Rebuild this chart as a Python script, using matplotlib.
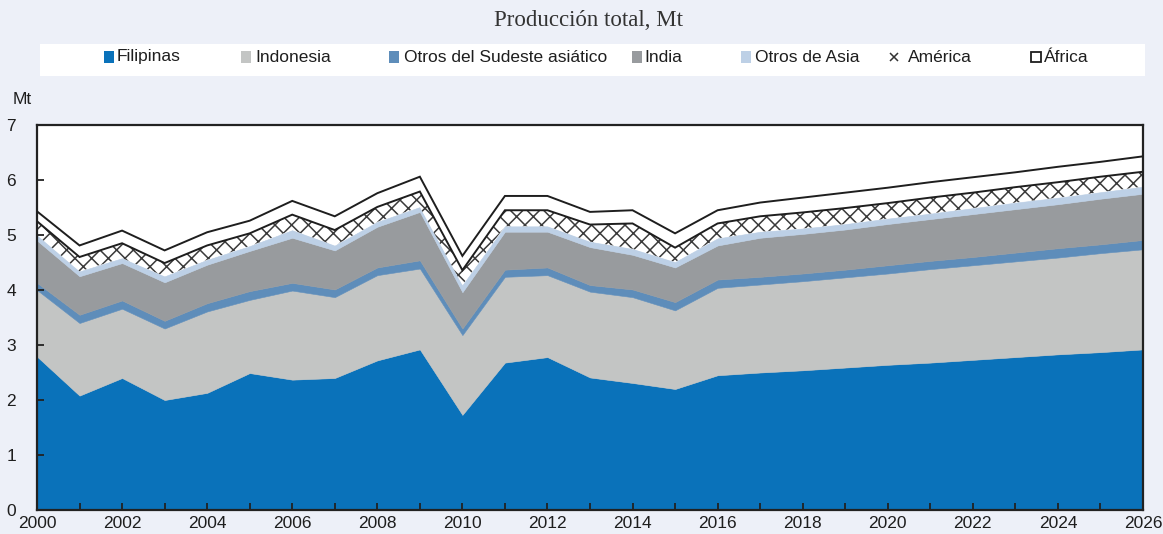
import numpy as np
import matplotlib
matplotlib.use("Agg")
import matplotlib.pyplot as plt
from matplotlib.patches import Rectangle
from matplotlib.lines import Line2D

years = list(range(2000, 2027))

filipinas = [2.79, 2.08, 2.40, 2.00, 2.13, 2.49, 2.37, 2.40, 2.72, 2.92, 1.73, 2.68, 2.78,
             2.41, 2.31, 2.20, 2.45, 2.50, 2.54, 2.59, 2.64, 2.68, 2.73, 2.78, 2.83, 2.87, 2.92]
indonesia = [1.21, 1.32, 1.26, 1.30, 1.48, 1.33, 1.62, 1.47, 1.55, 1.47, 1.45, 1.56, 1.49,
             1.56, 1.56, 1.43, 1.59, 1.60, 1.62, 1.64, 1.66, 1.70, 1.72, 1.74, 1.76, 1.80, 1.82]
otros_sudeste = [0.13, 0.15, 0.15, 0.14, 0.15, 0.16, 0.14, 0.14, 0.14, 0.15, 0.12, 0.13, 0.14,
                 0.12, 0.14, 0.15, 0.15, 0.14, 0.14, 0.14, 0.15, 0.15, 0.15, 0.16, 0.17, 0.16, 0.17]
india = [0.77, 0.70, 0.68, 0.70, 0.70, 0.73, 0.82, 0.71, 0.74, 0.88, 0.66, 0.69, 0.65,
         0.69, 0.63, 0.63, 0.62, 0.71, 0.72, 0.73, 0.75, 0.76, 0.78, 0.79, 0.80, 0.83, 0.84]
otros_asia = [0.10, 0.09, 0.09, 0.11, 0.09, 0.09, 0.14, 0.09, 0.09, 0.09, 0.13, 0.10, 0.10,
              0.10, 0.11, 0.10, 0.13, 0.11, 0.10, 0.10, 0.10, 0.10, 0.11, 0.12, 0.12, 0.12, 0.13]
america = [0.25, 0.26, 0.27, 0.24, 0.26, 0.23, 0.28, 0.28, 0.27, 0.28, 0.27, 0.29, 0.29,
           0.31, 0.46, 0.26, 0.27, 0.28, 0.29, 0.29, 0.28, 0.29, 0.28, 0.28, 0.28, 0.28, 0.27]
africa = [0.18, 0.21, 0.23, 0.23, 0.24, 0.23, 0.25, 0.25, 0.25, 0.27, 0.26, 0.26, 0.26,
          0.23, 0.24, 0.26, 0.24, 0.25, 0.27, 0.28, 0.28, 0.28, 0.28, 0.27, 0.28, 0.27, 0.28]

labels = ["Filipinas", "Indonesia", "Otros del Sudeste asiático", "India",
          "Otros de Asia", "América", "África"]

BG = "#EDF0F8"
colors = ["#0A72BA", "#C3C5C4", "#5E8DBA", "#989B9E", "#BDD0E6", "#FFFFFF", "#FFFFFF"]

plt.rcParams["font.family"] = ["Liberation Sans", "DejaVu Sans"]
plt.rcParams["hatch.color"] = "#3A3A3A"
plt.rcParams["hatch.linewidth"] = 1.1

fig = plt.figure(figsize=(11.63, 5.34), dpi=100, facecolor=BG)
W, H = 1163.0, 534.0
ax = fig.add_axes([37 / W, 1 - 510 / H, (1143 - 37) / W, (510 - 125) / H])
ax.set_facecolor("white")

series = [filipinas, indonesia, otros_sudeste, india, otros_asia, america, africa]
polys = ax.stackplot(years, *series, colors=colors, linewidth=0.4)
for p, c in zip(polys, colors):
    p.set_edgecolor(c)
polys[5].set_hatch("xx")
polys[5].set_edgecolor("#3A3A3A")
polys[5].set_linewidth(0)
polys[6].set_edgecolor("none")
polys[6].set_linewidth(0)

cum = np.cumsum(np.array(series), axis=0)
ax.plot(years, cum[5], color="#1E1E1E", lw=1.4, zorder=3, solid_joinstyle="miter")
ax.plot(years, cum[6], color="#1E1E1E", lw=1.4, zorder=3, solid_joinstyle="miter")

ax.set_xlim(2000, 2026)
ax.set_ylim(0, 7)
ax.set_xticks(range(2000, 2027, 2))
ax.set_xticks(range(2001, 2027, 2), minor=True)
ax.set_yticks(range(0, 8))
ax.tick_params(axis="both", which="both", direction="in", length=5, width=1.3,
               color="#222222", labelsize=12.5, labelcolor="#1E1E1E")
ax.tick_params(axis="y", pad=15)
ax.tick_params(axis="x", pad=4)
for s in ax.spines.values():
    s.set_color("#222222")
    s.set_linewidth(1.6)

fig.text(13 / W, 1 - 100 / H, "Mt", fontsize=12.5, color="#1E1E1E", va="center", ha="left")

# subtitle
fig.text(589 / W, 1 - 20 / H, "Producción total, Mt", fontsize=16.5, color="#333333",
         family=["Liberation Serif", "DejaVu Serif"], ha="center", va="center")

# legend box
fig.patches.append(Rectangle((40 / W, 1 - 76 / H), (1145 - 40) / W, 32 / H,
                             transform=fig.transFigure, facecolor="white",
                             edgecolor="none", zorder=0))
marker_x = [104, 241, 389, 632, 741, 888, 1031]
text_x = [117, 255, 404, 644, 755, 908, 1044]
ly = 1 - 57 / H
for i, (lab, mx, tx) in enumerate(zip(labels, marker_x, text_x)):
    if i == 5:
        fig.lines.append(Line2D([(mx + 6) / W], [ly], marker="x", markersize=6,
                                markeredgewidth=1.1, color="#333333",
                                transform=fig.transFigure))
    elif i == 6:
        fig.patches.append(Rectangle((mx / W, ly - 5 / H), 10 / W, 10 / H,
                                     transform=fig.transFigure, facecolor="white",
                                     edgecolor="#1E1E1E", linewidth=1.3))
    else:
        fig.patches.append(Rectangle((mx / W, ly - 5.5 / H), 10 / W, 11 / H,
                                     transform=fig.transFigure, facecolor=colors[i],
                                     edgecolor="none"))
    fig.text(tx / W, ly, lab, fontsize=12.5, color="#1E1E1E", ha="left", va="center")

fig.savefig("out.png", dpi=100, facecolor=BG)
